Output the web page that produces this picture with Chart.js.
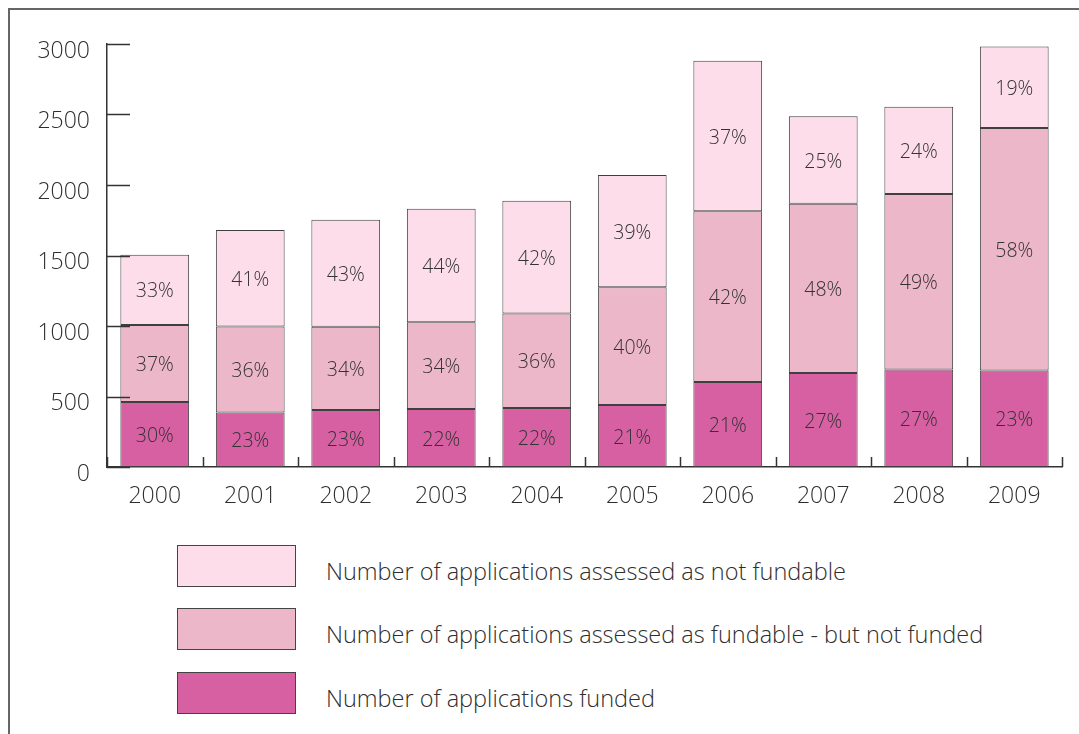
<!DOCTYPE html>
<html>
<head>
<meta charset="utf-8">
<script src="https://cdn.jsdelivr.net/npm/chart.js@4.4.1/dist/chart.umd.min.js"></script>
<style>
  html, body { margin: 0; padding: 0; background: #fff; }
  body { width: 1079px; height: 734px; position: relative; overflow: hidden; font-family: 'Open Sans', sans-serif; }
  #frame { position: absolute; left: 8px; top: 8px; width: 1100px; height: 800px; border-top: 2px solid #666; border-left: 2px solid #666; }
  #wrap { position: absolute; left: 0; top: 0; width: 1079px; height: 530px; }
  .lg-box { position: absolute; left: 177px; width: 117px; height: 40px; border: 1px solid #444; }
  .lg-text { position: absolute; left: 326px; height: 42px; line-height: 42px; font-size: 23.5px; font-weight: 300; color: #2e2e2e; white-space: nowrap; }
</style>
</head>
<body>
<div id="frame"></div>
<div id="wrap"><canvas id="c" width="1079" height="530"></canvas></div>
<div id="legend"></div>
<script>
const years = ['2000','2001','2002','2003','2004','2005','2006','2007','2008','2009'];
const funded        = [461, 387, 404, 411, 418, 440, 603, 667, 692, 685];
const fundableNot   = [546, 610, 591, 615, 671, 834, 1210, 1200, 1244, 1719];
const notFundable   = [499, 684, 759, 806, 800, 797, 1069, 620, 619, 579];
const fundedPct      = ['30%','23%','23%','22%','22%','21%','21%','27%','27%','23%'];
const fundableNotPct = ['37%','36%','34%','34%','36%','40%','42%','48%','49%','58%'];
const notFundablePct = ['33%','41%','43%','44%','42%','39%','37%','25%','24%','19%'];
const yTicks = [0, 500, 1000, 1500, 2000, 2500, 3000];
const seriesNames = [
  'Number of applications funded',
  'Number of applications assessed as fundable - but not funded',
  'Number of applications assessed as not fundable'
];
const colors = ['#d660a2', '#edb7ca', '#fcdde9'];

const axisColor = '#333333';
const textColor = '#2e2e2e';
const FONT = "'Open Sans', sans-serif";

const ticksPlugin = {
  id: 'customTicks',
  afterDatasetsDraw(chart) {
    const ctx = chart.ctx;
    const y = chart.scales.y, x = chart.scales.x;
    ctx.save();
    ctx.strokeStyle = axisColor;
    ctx.lineWidth = 1.5;
    yTicks.forEach(v => {
      const py = Math.round(y.getPixelForValue(v)) + 0.5;
      ctx.beginPath();
      ctx.moveTo(x.left, py);
      ctx.lineTo(x.left + 23, py);
      ctx.stroke();
    });
    const step = x.getPixelForValue(1) - x.getPixelForValue(0);
    for (let i = 0; i <= years.length; i++) {
      let px = x.getPixelForValue(Math.min(i, years.length - 1)) + (i < years.length ? -step / 2 : step / 2);
      px = Math.round(px) + 0.5;
      ctx.beginPath();
      ctx.moveTo(px, y.bottom);
      ctx.lineTo(px, y.bottom - 10);
      ctx.stroke();
    }
    ctx.restore();
  }
};

const pctLists = [fundedPct, fundableNotPct, notFundablePct];
const labelsPlugin = {
  id: 'barLabels',
  afterDatasetsDraw(chart) {
    const ctx = chart.ctx;
    ctx.save();
    ctx.font = "300 19.5px " + FONT;
    ctx.fillStyle = '#333333';
    ctx.textAlign = 'center';
    ctx.textBaseline = 'middle';
    chart.data.datasets.forEach((ds, di) => {
      const meta = chart.getDatasetMeta(di);
      meta.data.forEach((el, i) => {
        const p = el.getProps(['x', 'y', 'base'], true);
        ctx.fillText(pctLists[di][i], p.x, (p.y + p.base) / 2 + 2);
      });
    });
    ctx.restore();
  }
};

new Chart(document.getElementById('c'), {
  type: 'bar',
  data: {
    labels: years,
    datasets: [
      { label: seriesNames[0], data: funded, backgroundColor: colors[0] },
      { label: seriesNames[1], data: fundableNot, backgroundColor: colors[1] },
      { label: seriesNames[2], data: notFundable, backgroundColor: colors[2] }
    ].map(d => Object.assign(d, {
      borderColor: '#3f3f3f', borderWidth: 1, borderSkipped: false,
      categoryPercentage: 1.0, barPercentage: 0.72
    }))
  },
  options: {
    responsive: false,
    animation: false,
    events: [],
    layout: { padding: { top: 44, right: 17, bottom: 13, left: 0 } },
    plugins: { legend: { display: false }, tooltip: { enabled: false } },
    scales: {
      x: {
        stacked: true,
        grid: { display: false, drawTicks: false },
        border: { display: true, color: axisColor, width: 1.5 },
        ticks: { color: textColor, font: { family: FONT, size: 23, weight: 300 }, padding: 16 },
        afterFit(s) { s.height = 50; }
      },
      y: {
        stacked: true,
        min: 0, max: 3000,
        afterBuildTicks(s) { s.ticks = yTicks.map(v => ({ value: v })); },
        grid: { display: false, drawTicks: false },
        border: { display: true, color: axisColor, width: 1.5 },
        ticks: {
          color: textColor, font: { family: FONT, size: 23, weight: 300 }, padding: 17,
          labelOffset: 7,
          callback: v => String(v)
        },
        afterFit(s) { s.width = 107; }
      }
    }
  },
  plugins: [ticksPlugin, labelsPlugin]
});

const legend = document.getElementById('legend');
const order = [2, 1, 0];
const tops = [545, 608, 672];
order.forEach((si, k) => {
  const b = document.createElement('div');
  b.className = 'lg-box';
  b.style.top = tops[k] + 'px';
  b.style.background = colors[si];
  legend.appendChild(b);
  const t = document.createElement('div');
  t.className = 'lg-text';
  t.style.top = (tops[k] + 5) + 'px';
  t.textContent = seriesNames[si];
  legend.appendChild(t);
});
</script>
</body>
</html>
